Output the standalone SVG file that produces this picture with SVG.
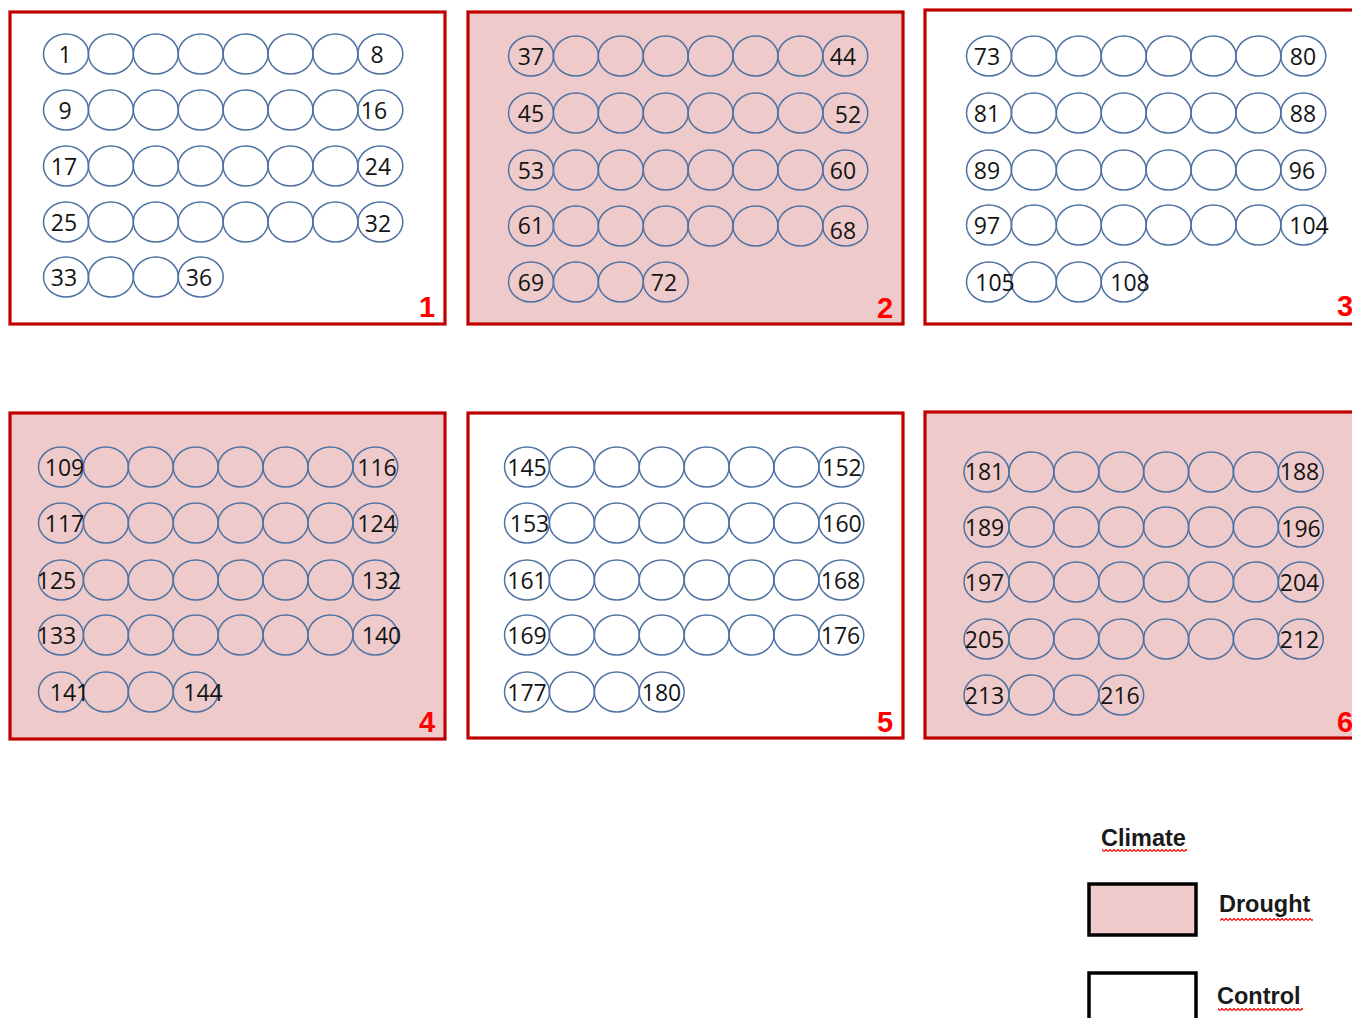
<svg xmlns="http://www.w3.org/2000/svg" xmlns:xlink="http://www.w3.org/1999/xlink" width="1352" height="1018" viewBox="0 0 1352 1018">
<style>
.blk{stroke:#c00000;stroke-width:3.2}
.dr{fill:#eecbca}
.ct{fill:#ffffff}
.pot{fill:none;stroke:#4f72a3;stroke-width:1.5}
.num{font-family:"Open Sans","Liberation Sans",sans-serif;font-size:23px;fill:#141414;text-anchor:middle}
.bl{font-family:"Liberation Sans",Arial,sans-serif;font-size:29px;font-weight:bold;fill:#ff0000;text-anchor:middle}
.lg{font-family:"Liberation Sans",Arial,sans-serif;font-size:23.5px;font-weight:bold;fill:#1a1a1a}
.lbox{stroke:#000;stroke-width:3.5}
</style>
<defs>
<g id="row8" class="pot">
<ellipse cx="0" cy="0" rx="22.5" ry="20"/><ellipse cx="44.9" cy="0" rx="22.5" ry="20"/><ellipse cx="89.8" cy="0" rx="22.5" ry="20"/><ellipse cx="134.7" cy="0" rx="22.5" ry="20"/><ellipse cx="179.6" cy="0" rx="22.5" ry="20"/><ellipse cx="224.5" cy="0" rx="22.5" ry="20"/><ellipse cx="269.4" cy="0" rx="22.5" ry="20"/><ellipse cx="314.3" cy="0" rx="22.5" ry="20"/>
</g>
<g id="row4" class="pot">
<ellipse cx="0" cy="0" rx="22.5" ry="20"/><ellipse cx="44.9" cy="0" rx="22.5" ry="20"/><ellipse cx="89.8" cy="0" rx="22.5" ry="20"/><ellipse cx="134.7" cy="0" rx="22.5" ry="20"/>
</g>
<pattern id="wavy" patternUnits="userSpaceOnUse" width="4" height="3">
<path d="M0 2.5 L2 0.5 L4 2.5" fill="none" stroke="#ff0000" stroke-width="1.2"/>
</pattern>
</defs>
<rect width="1352" height="1018" fill="#ffffff"/>

<g id="block1">
<rect class="blk ct" x="10" y="12" width="435" height="312"/>
<use href="#row8" x="66" y="54"/><use href="#row8" x="66" y="110"/><use href="#row8" x="66" y="166"/><use href="#row8" x="66" y="222"/><use href="#row4" x="66" y="277"/>
<text class="num" x="65" y="63">1</text><text class="num" x="377" y="63">8</text>
<text class="num" x="65" y="119">9</text><text class="num" x="374" y="119">16</text>
<text class="num" x="64" y="175">17</text><text class="num" x="378" y="175">24</text>
<text class="num" x="64" y="231">25</text><text class="num" x="378" y="232">32</text>
<text class="num" x="64" y="286">33</text><text class="num" x="199" y="286">36</text>
<text class="bl" x="427" y="317">1</text>
</g>

<g id="block2">
<rect class="blk dr" x="468" y="12" width="435" height="312"/>
<use href="#row8" x="531" y="56"/><use href="#row8" x="531" y="113"/><use href="#row8" x="531" y="170"/><use href="#row8" x="531" y="226"/><use href="#row4" x="531" y="282"/>
<text class="num" x="531" y="65">37</text><text class="num" x="843" y="65">44</text>
<text class="num" x="531" y="122">45</text><text class="num" x="848" y="123">52</text>
<text class="num" x="531" y="179">53</text><text class="num" x="843" y="179">60</text>
<text class="num" x="531" y="234">61</text><text class="num" x="843" y="239">68</text>
<text class="num" x="531" y="291">69</text><text class="num" x="664" y="291">72</text>
<text class="bl" x="885" y="318">2</text>
</g>

<g id="block3">
<rect class="blk ct" x="925" y="10" width="440" height="314"/>
<use href="#row8" x="989" y="56"/><use href="#row8" x="989" y="113"/><use href="#row8" x="989" y="170"/><use href="#row8" x="989" y="225"/><use href="#row4" x="989" y="282"/>
<text class="num" x="987" y="65">73</text><text class="num" x="1303" y="65">80</text>
<text class="num" x="987" y="122">81</text><text class="num" x="1303" y="122">88</text>
<text class="num" x="987" y="179">89</text><text class="num" x="1302" y="179">96</text>
<text class="num" x="987" y="234">97</text><text class="num" x="1309" y="234">104</text>
<text class="num" x="995" y="291">105</text><text class="num" x="1130" y="291">108</text>
<text class="bl" x="1345" y="316">3</text>
</g>

<g id="block4">
<rect class="blk dr" x="10" y="413" width="435" height="326"/>
<use href="#row8" x="61" y="467"/><use href="#row8" x="61" y="523"/><use href="#row8" x="61" y="580"/><use href="#row8" x="61" y="635"/><use href="#row4" x="61" y="692"/>
<text class="num" x="64.5" y="476">109</text><text class="num" x="377" y="476">116</text>
<text class="num" x="64.5" y="532">117</text><text class="num" x="377" y="532">124</text>
<text class="num" x="56.5" y="589">125</text><text class="num" x="381.5" y="589">132</text>
<text class="num" x="56.5" y="644">133</text><text class="num" x="381.5" y="644">140</text>
<text class="num" x="69.5" y="701">141</text><text class="num" x="203" y="701">144</text>
<text class="bl" x="427" y="732">4</text>
</g>

<g id="block5">
<rect class="blk ct" x="468" y="413" width="435" height="325"/>
<use href="#row8" x="527" y="467"/><use href="#row8" x="527" y="523"/><use href="#row8" x="527" y="580"/><use href="#row8" x="527" y="635"/><use href="#row4" x="527" y="692"/>
<text class="num" x="527" y="476">145</text><text class="num" x="842" y="476">152</text>
<text class="num" x="529.5" y="532">153</text><text class="num" x="842" y="532">160</text>
<text class="num" x="527" y="589">161</text><text class="num" x="840.5" y="589">168</text>
<text class="num" x="527" y="644">169</text><text class="num" x="840.5" y="644">176</text>
<text class="num" x="527" y="701">177</text><text class="num" x="661.5" y="701">180</text>
<text class="bl" x="885" y="732">5</text>
</g>

<g id="block6">
<rect class="blk dr" x="925" y="412" width="440" height="326"/>
<use href="#row8" x="986.5" y="472"/><use href="#row8" x="986.5" y="527"/><use href="#row8" x="986.5" y="582"/><use href="#row8" x="986.5" y="639"/><use href="#row4" x="986.5" y="695"/>
<text class="num" x="984.5" y="480">181</text><text class="num" x="1299.5" y="480">188</text>
<text class="num" x="984.5" y="536">189</text><text class="num" x="1301" y="537">196</text>
<text class="num" x="984.5" y="591">197</text><text class="num" x="1299.5" y="591">204</text>
<text class="num" x="984.5" y="648">205</text><text class="num" x="1299.5" y="648">212</text>
<text class="num" x="984.5" y="704">213</text><text class="num" x="1120" y="704">216</text>
<text class="bl" x="1345" y="732">6</text>
</g>

<g id="connectors"/>

<g id="legend">
<text class="lg" x="1101" y="846">Climate</text>
<rect x="1102" y="849" width="85" height="3" fill="url(#wavy)"/>
<rect class="lbox dr" x="1089" y="884" width="107" height="51"/>
<text class="lg" x="1219" y="912">Drought</text>
<rect x="1220" y="918" width="93" height="3" fill="url(#wavy)"/>
<rect class="lbox ct" x="1089" y="973" width="107" height="60"/>
<text class="lg" x="1217" y="1004">Control</text>
<rect x="1218" y="1008" width="85" height="3" fill="url(#wavy)"/>
</g>
</svg>
